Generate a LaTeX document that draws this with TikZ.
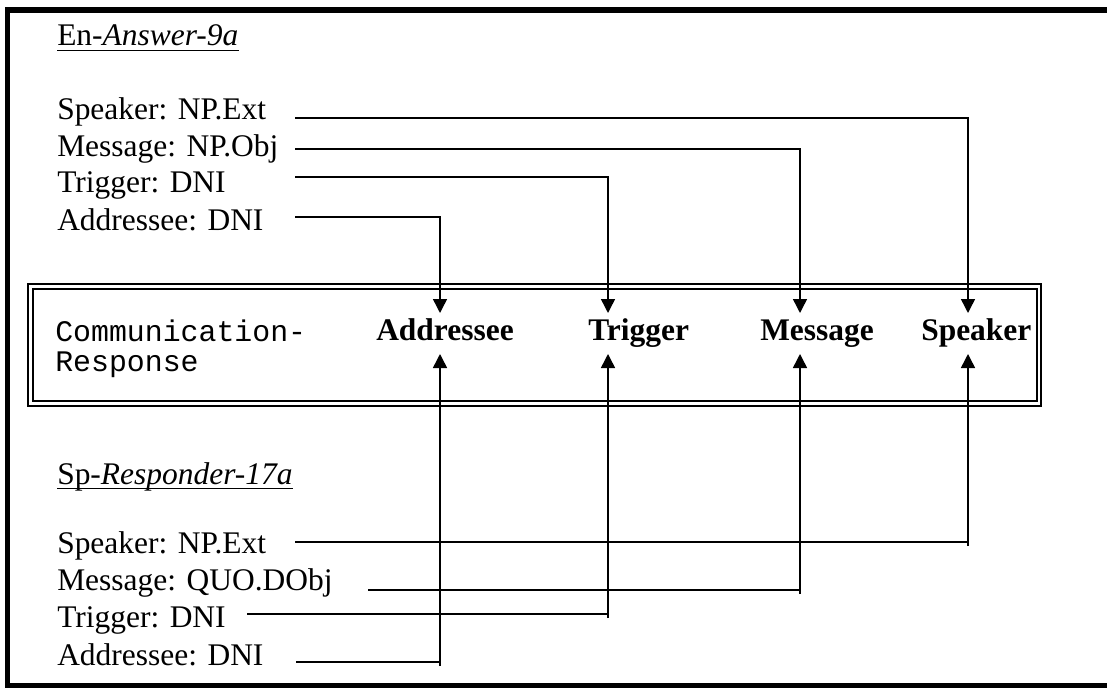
\documentclass[tikz,border=0pt]{standalone}
\usepackage{fontspec}
\setmainfont{Liberation Serif}
\setmonofont{Liberation Mono}
\usetikzlibrary{arrows.meta}
\tikzset{
  txt/.style={anchor=base west, inner sep=0pt, font=\fontsize{23.6pt}{28pt}\selectfont},
  lbl/.style={anchor=base west, inner sep=0pt, font=\fontsize{23.6pt}{28pt}\selectfont\bfseries},
  mono/.style={anchor=base west, inner sep=0pt, font=\fontsize{22.4pt}{27pt}\selectfont\ttfamily},
  conn/.style={line width=1.1pt, line join=miter, -{Triangle[length=10.5pt,width=10.5pt]}},
  frameline/.style={line width=4.2pt},
  dbl/.style={line width=1pt},
  uline/.style={line width=0.9pt}
}
\begin{document}
\begin{tikzpicture}[x=0.75pt,y=-0.75pt]
\useasboundingbox (0,0) rectangle (1107,688);
\begin{scope}
  \clip (0,0) rectangle (1107,688);
  \draw[frameline] (7.5,10) rectangle (1130,685.5);
\end{scope}
% frame box
\draw[dbl] (28,284) rectangle (1041,406);
\draw[dbl] (33,289) rectangle (1037,401);
\node[mono] (clsA) at (55,341) {Communication-};
\node[mono] (clsB) at (55,371) {Response};
\node[lbl] (lA) at (376,340) {Addressee};
\node[lbl] (lT) at (588,340) {Trigger};
\node[lbl] (lM) at (760,340) {Message};
\node[lbl] (lS) at (921,340) {Speaker};
% top text
\node[txt] (hTop) at (57,46) {En-\textit{Answer-9a}};
\draw[uline] ([yshift=-3.5pt]hTop.base west) -- ([yshift=-3.5pt]hTop.base east);
\node[txt] (tS) at (57,120) {Speaker: NP.Ext};
\node[txt] (tM) at (57,157) {Message: NP.Obj};
\node[txt] (tT) at (57,193) {Trigger: DNI};
\node[txt] (tA) at (57,230) {Addressee: DNI};
% bottom text
\node[txt] (hBot) at (57,484) {Sp-\textit{Responder-17a}};
\draw[uline] ([yshift=-3.5pt]hBot.base west) -- ([yshift=-3.5pt]hBot.base east);
\node[txt] (bS) at (57,553) {Speaker: NP.Ext};
\node[txt] (bM) at (57,590) {Message: QUO.DObj};
\node[txt] (bT) at (57,627) {Trigger: DNI};
\node[txt] (bA) at (57,665) {Addressee: DNI};
% connector ends
\coordinate (tS0) at (295,118);
\coordinate (tM0) at (295,149);
\coordinate (tT0) at (295,177);
\coordinate (tA0) at (295,217);
\coordinate (dS) at (968,313);
\coordinate (dM) at (800,313);
\coordinate (dT) at (608,313);
\coordinate (dA) at (440,313);
\coordinate (bS0) at (295,542);
\coordinate (bM0) at (368,590);
\coordinate (bT0) at (247,614);
\coordinate (bA0) at (296,662);
\coordinate (uS) at (968,354);
\coordinate (uM) at (800,354);
\coordinate (uT) at (608,354);
\coordinate (uA) at (440,354);
% top connectors
\draw[conn] (tS0) -| (dS);
\draw[conn] (tM0) -| (dM);
\draw[conn] (tT0) -| (dT);
\draw[conn] (tA0) -| (dA);
% bottom connectors
\draw[conn] (bS0) -- (bS0 -| uS) ++(0,4) -- (uS);
\draw[conn] (bM0) -- (bM0 -| uM) ++(0,4) -- (uM);
\draw[conn] (bT0) -- (bT0 -| uT) ++(0,4) -- (uT);
\draw[conn] (bA0) -- (bA0 -| uA) ++(0,4) -- (uA);
\end{tikzpicture}
\end{document}
